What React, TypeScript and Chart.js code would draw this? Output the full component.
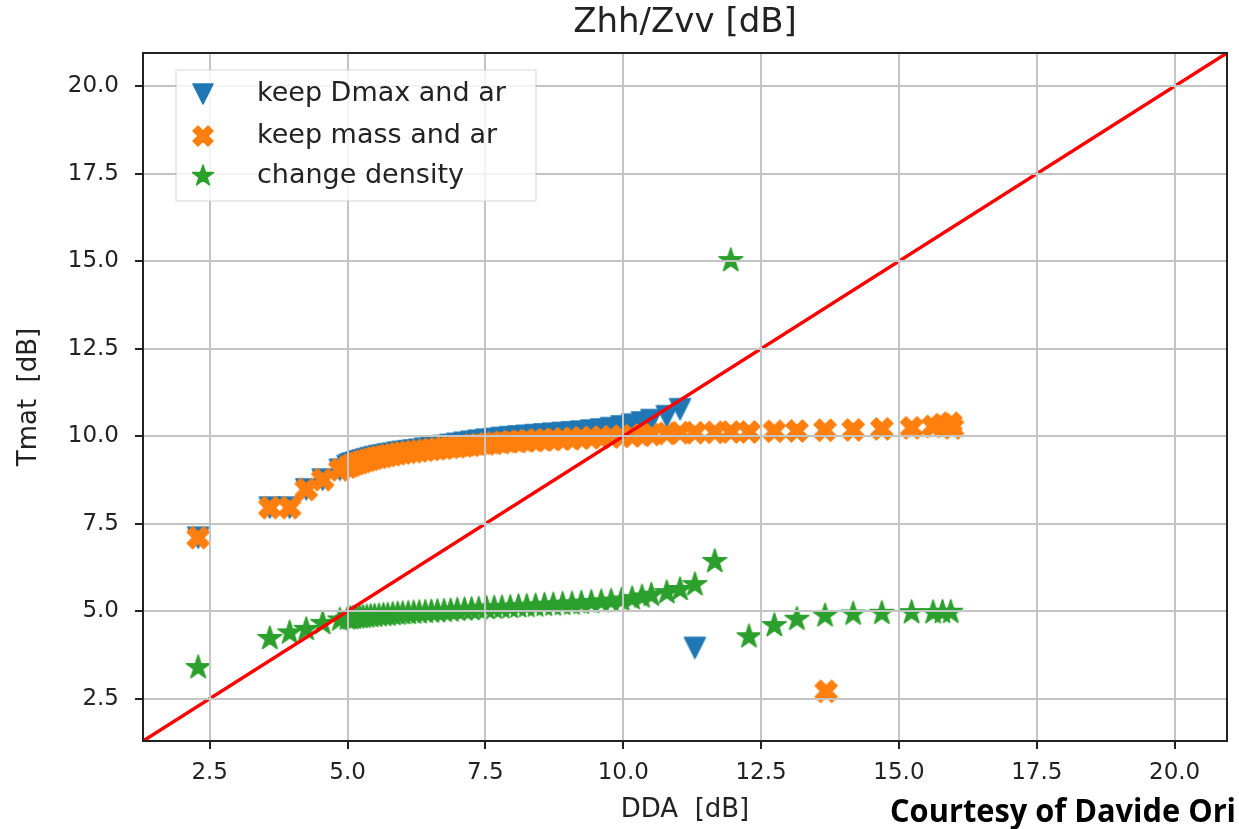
import React, { useEffect, useRef } from "react";
import { Chart, registerables } from "chart.js";

Chart.register(...registerables);

// ---- data ----
const ddaX: number[] = [
  2.29, 3.59, 3.95, 4.25, 4.55, 4.86,
  5.0, 5.05, 5.1, 5.16, 5.22, 5.28, 5.35, 5.42, 5.49, 5.57, 5.65, 5.73, 5.82, 5.91,
  6.0, 6.1, 6.2, 6.3, 6.41, 6.52, 6.63, 6.75, 6.87, 6.99, 7.12, 7.25, 7.38, 7.52,
  7.66, 7.8, 7.95, 8.1, 8.25, 8.41, 8.57, 8.73, 8.9, 9.07, 9.24, 9.42, 9.6, 9.78,
  9.97, 10.16, 10.34, 10.51,
  10.79, 11.03, 11.3, 11.66, 11.95, 12.28, 12.74, 13.15, 13.66, 14.17, 14.69, 15.23,
  15.62, 15.79, 15.94,
];

const keepDmaxY: (number | null)[] = [
  7.1, 7.96, 7.96, 8.48, 8.76, 9.04,
  9.15, 9.19, 9.22, 9.25, 9.28, 9.31, 9.34, 9.37, 9.4, 9.43, 9.45, 9.48, 9.5, 9.53,
  9.55, 9.57, 9.59, 9.61, 9.64, 9.66, 9.69, 9.72, 9.75, 9.78, 9.81, 9.84, 9.87, 9.9,
  9.92, 9.95, 9.97, 9.99, 10.01, 10.03, 10.05, 10.07, 10.09, 10.11, 10.13, 10.16, 10.19, 10.23,
  10.28, 10.33, 10.39, 10.46,
  10.57, 10.77, 3.95, null, null, null, null, null, null, null, null, null,
  null, null, null,
];

const keepMassY: (number | null)[] = [
  7.1, 7.96, 7.96, 8.48, 8.76, 9.04,
  9.12, 9.16, 9.19, 9.22, 9.25, 9.28, 9.31, 9.34, 9.37, 9.4, 9.42, 9.45, 9.47, 9.5,
  9.52, 9.54, 9.56, 9.58, 9.6, 9.62, 9.64, 9.66, 9.68, 9.7, 9.72, 9.74, 9.76, 9.78,
  9.8, 9.82, 9.84, 9.85, 9.87, 9.88, 9.89, 9.91, 9.92, 9.93, 9.95, 9.96, 9.97, 9.98,
  10.0, 10.01, 10.03, 10.05,
  10.08, 10.1, 10.1, 10.11, 10.12, 10.12, 10.14, 10.15, 10.17, 10.18, 10.21, 10.24,
  10.28, 10.33, 10.37,
];
const keepMassExtraX: number[] = [13.68, 15.97];
const keepMassExtraY: number[] = [2.71, 10.24];

const changeDensityY: (number | null)[] = [
  3.39, 4.22, 4.38, 4.48, 4.65, 4.75,
  4.78, 4.79, 4.8, 4.81, 4.82, 4.83, 4.84, 4.85, 4.86, 4.87, 4.88, 4.89, 4.91, 4.92,
  4.93, 4.94, 4.95, 4.96, 4.97, 4.98, 4.99, 5.0, 5.01, 5.03, 5.04, 5.05, 5.06, 5.08,
  5.09, 5.1, 5.11, 5.13, 5.14, 5.15, 5.17, 5.18, 5.2, 5.21, 5.23, 5.25, 5.27, 5.29,
  5.32, 5.36, 5.41, 5.46,
  5.53, 5.62, 5.76, 6.42, 15.02, 4.27, 4.59, 4.77, 4.87, 4.92, 4.94, 4.96,
  4.96, 4.97, 4.97,
];

const axisMin = 1.29;
const axisMax = 20.95;
const oneToOne: number[] = [axisMin, axisMax];
const xTickValues: number[] = [2.5, 5.0, 7.5, 10.0, 12.5, 15.0, 17.5, 20.0];
const yTickValues: number[] = [2.5, 5.0, 7.5, 10.0, 12.5, 15.0, 17.5, 20.0];

const seriesLabels: string[] = ["keep Dmax and ar", "keep mass and ar", "change density"];
const seriesColors: string[] = ["#1f77b4", "#ff7f0e", "#2ca02c"];
const seriesMarkers: string[] = ["v", "X", "*"];

const chartTitle = "Zhh/Zvv [dB]";
const xTitle = "DDA  [dB]";
const yTitle = "Tmat  [dB]";
const courtesy = "Courtesy of Davide Ori";

// ---- helpers ----
function toPoints(xs: number[], ys: (number | null)[]) {
  const out: { x: number; y: number }[] = [];
  xs.forEach((x, i) => {
    const y = ys[i];
    if (y !== null && y !== undefined) out.push({ x, y });
  });
  return out;
}

function makeMarker(kind: string, color: string, size: number): HTMLCanvasElement {
  const S = Math.ceil(size + 6);
  const c = document.createElement("canvas");
  c.width = S;
  c.height = S;
  const g = c.getContext("2d")!;
  g.translate(S / 2, S / 2);
  g.beginPath();
  if (kind === "v") {
    const h = size / 2;
    g.moveTo(-h, -h);
    g.lineTo(h, -h);
    g.lineTo(0, h);
  } else if (kind === "X") {
    const v = [
      [-1, -2], [0, -1], [1, -2], [2, -1], [1, 0], [2, 1],
      [1, 2], [0, 1], [-1, 2], [-2, 1], [-1, 0], [-2, -1],
    ];
    v.forEach(([a, b], i) => {
      const px = (a / 4) * size;
      const py = (b / 4) * size;
      if (i === 0) g.moveTo(px, py);
      else g.lineTo(px, py);
    });
  } else {
    const R = size / 2;
    const r = R * 0.381966;
    for (let k = 0; k < 10; k++) {
      const ang = -Math.PI / 2 + (k * Math.PI) / 5;
      const rad = k % 2 === 0 ? R : r;
      const px = Math.cos(ang) * rad;
      const py = Math.sin(ang) * rad;
      if (k === 0) g.moveTo(px, py);
      else g.lineTo(px, py);
    }
  }
  g.closePath();
  g.fillStyle = color;
  g.fill();
  g.strokeStyle = color;
  g.lineWidth = 1.5;
  g.lineJoin = "round";
  g.stroke();
  return c;
}

const FONT = '"DejaVu Sans", sans-serif';
const TEXT = "#222222";

export default function App() {
  const ref = useRef<HTMLCanvasElement | null>(null);

  useEffect(() => {
    const canvas = ref.current;
    if (!canvas) return;
    const markers = [
      makeMarker(seriesMarkers[0], seriesColors[0], 21),
      makeMarker(seriesMarkers[1], seriesColors[1], 22),
      makeMarker(seriesMarkers[2], seriesColors[2], 25),
    ];
    const legendMarkers = [
      makeMarker(seriesMarkers[0], seriesColors[0], 20),
      makeMarker(seriesMarkers[1], seriesColors[1], 20),
      makeMarker(seriesMarkers[2], seriesColors[2], 22),
    ];

    const decor = {
      id: "decor",
      afterDraw(chart: any) {
        const ctx = chart.ctx as CanvasRenderingContext2D;
        const a = chart.chartArea;
        ctx.save();
        // frame
        ctx.strokeStyle = "#222222";
        ctx.lineWidth = 2;
        ctx.strokeRect(a.left, a.top, a.right - a.left, a.bottom - a.top);
        // title
        ctx.fillStyle = TEXT;
        ctx.font = `34px ${FONT}`;
        ctx.textAlign = "center";
        ctx.textBaseline = "middle";
        ctx.fillText(chartTitle, (a.left + a.right) / 2, 23);
        // legend
        const lx = 176, ly = 70, lw = 360, lh = 131;
        ctx.fillStyle = "rgba(255,255,255,0.8)";
        ctx.strokeStyle = "rgba(204,204,204,0.8)";
        ctx.lineWidth = 1;
        ctx.beginPath();
        ctx.rect(lx, ly, lw, lh);
        ctx.fill();
        ctx.stroke();
        const rows = [94, 136, 176];
        ctx.font = `27px ${FONT}`;
        ctx.textAlign = "left";
        ctx.textBaseline = "middle";
        seriesLabels.forEach((label, i) => {
          const m = legendMarkers[i];
          ctx.drawImage(m, 203 - m.width / 2, rows[i] - m.height / 2);
          ctx.fillStyle = TEXT;
          ctx.fillText(label, 257, rows[i]);
        });
        // courtesy
        ctx.fillStyle = "#000000";
        ctx.font = 'bold 33px "Liberation Sans Narrow", "Open Sans", sans-serif';
        ctx.textAlign = "right";
        ctx.textBaseline = "alphabetic";
        ctx.fillText(courtesy, 1236, 822, 346);
        ctx.restore();
      },
    };

    const chart = new Chart(canvas, {
      type: "scatter",
      data: {
        datasets: [
          {
            label: "1:1",
            data: oneToOne.map((v) => ({ x: v, y: v })),
            showLine: true,
            borderColor: "#ff0000",
            borderWidth: 3.5,
            pointRadius: 0,
            pointHoverRadius: 0,
            order: 0,
          } as any,
          {
            label: seriesLabels[0],
            data: toPoints(ddaX, keepDmaxY),
            pointStyle: markers[0],
            pointRadius: 10,
            order: 3,
          },
          {
            label: seriesLabels[1],
            data: toPoints(ddaX, keepMassY).concat(toPoints(keepMassExtraX, keepMassExtraY)),
            pointStyle: markers[1],
            pointRadius: 10,
            order: 2,
          },
          {
            label: seriesLabels[2],
            data: toPoints(ddaX, changeDensityY),
            pointStyle: markers[2],
            pointRadius: 10,
            order: 1,
          },
        ],
      },
      options: {
        animation: false,
        responsive: false,
        devicePixelRatio: 1,
        events: [],
        layout: { padding: { top: 53, right: 12, left: 0, bottom: 0 } },
        plugins: {
          legend: { display: false },
          title: { display: false },
          tooltip: { enabled: false },
        },
        scales: {
          x: {
            type: "linear",
            min: axisMin,
            max: axisMax,
            afterBuildTicks: (s: any) => {
              s.ticks = xTickValues.map((v) => ({ value: v }));
            },
            afterFit: (s: any) => {
              s.height = 88;
            },
            ticks: {
              callback: (v: any) => Number(v).toFixed(1),
              font: { family: FONT, size: 23 },
              color: TEXT,
              padding: 10,
              maxRotation: 0,
              autoSkip: false,
            },
            grid: {
              color: "#c4c4c4",
              lineWidth: 2,
              z: 1,
              tickLength: 8,
              tickColor: "#222222",
              tickWidth: 2,
            },
            border: { display: false },
            title: {
              display: true,
              text: xTitle,
              font: { family: FONT, size: 26 },
              color: TEXT,
              padding: { top: 0, bottom: 3 },
            },
          },
          y: {
            type: "linear",
            min: axisMin,
            max: axisMax,
            afterBuildTicks: (s: any) => {
              s.ticks = yTickValues.map((v) => ({ value: v }));
            },
            afterFit: (s: any) => {
              s.width = 143;
            },
            ticks: {
              callback: (v: any) => Number(v).toFixed(1),
              font: { family: FONT, size: 23 },
              color: TEXT,
              padding: 16,
              autoSkip: false,
            },
            grid: {
              color: "#c4c4c4",
              lineWidth: 2,
              z: 1,
              tickLength: 8,
              tickColor: "#222222",
              tickWidth: 2,
            },
            border: { display: false },
            title: {
              display: true,
              text: yTitle,
              font: { family: FONT, size: 26 },
              color: TEXT,
              padding: { top: 14, bottom: 0 },
            },
          },
        },
      },
      plugins: [decor],
    } as any);

    return () => {
      chart.destroy();
    };
  }, []);

  return (
    <div style={{ position: "fixed", left: 0, top: 0, width: 1239, height: 829, background: "#ffffff" }}>
      <canvas ref={ref} width={1239} height={829} style={{ display: "block" }} />
    </div>
  );
}
